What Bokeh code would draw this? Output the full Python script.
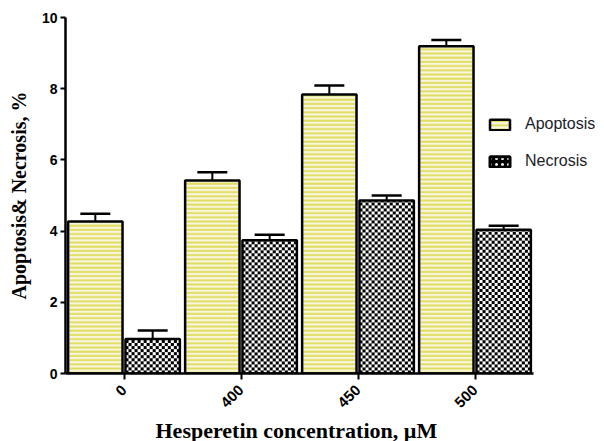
import numpy as np
from bokeh.plotting import figure
from bokeh.models import (ColumnDataSource, Range1d, Whisker, TeeHead,
                          Legend, LegendItem, FixedTicker, Title)
from bokeh.embed import file_html
from bokeh.resources import INLINE

concentrations = ["0", "400", "450", "500"]
apoptosis = [4.27, 5.42, 7.84, 9.19]
apoptosis_err = [0.22, 0.23, 0.25, 0.18]
necrosis = [0.97, 3.74, 4.86, 4.04]
necrosis_err = [0.24, 0.16, 0.14, 0.11]
y_ticks = [0, 2, 4, 6, 8, 10]

OFF = 0.245
BW = 0.465
FRAME_W, FRAME_H = 530, 356
X0, X_AXIS_END = -0.5, 3.5
PX_PER_X = 117.0
X1 = X0 + FRAME_W / PX_PER_X

idx = list(range(len(concentrations)))
src = ColumnDataSource(dict(
    xa=[i - OFF for i in idx],
    xn=[i + OFF for i in idx],
    apo=apoptosis,
    apo_up=[a + e for a, e in zip(apoptosis, apoptosis_err)],
    nec=necrosis,
    nec_up=[a + e for a, e in zip(necrosis, necrosis_err)],
    zero=[0.0] * len(idx),
))

p = figure(x_range=Range1d(X0, X1), y_range=Range1d(0, 10),
           frame_width=FRAME_W, frame_height=FRAME_H,
           min_border_left=65, min_border_top=17, min_border_right=4, min_border_bottom=10,
           output_backend="svg", toolbar_location=None)

r_apo = p.vbar(x="xa", top="apo", width=BW, source=src,
               fill_color="#f7f6de", hatch_pattern="horizontal_line", hatch_color="#e0dc5e",
               hatch_scale=4.2, hatch_weight=2, line_color="black", line_width=2.5)

# legend-only (zero height) glyph for necrosis swatch
r_nec_leg = p.vbar(x="xn", top="zero", width=BW, source=src, fill_color="black",
                   hatch_pattern="dot", hatch_color="white", hatch_scale=6, hatch_weight=1,
                   line_color="black", line_width=3)

# checkerboard texture for necrosis bars, one image per bar
cell = 3
imgs, ximg, dws, dhs = [], [], [], []
px_per_y = FRAME_H / 10.0
for i, v in zip(idx, necrosis):
    rows = max(1, int(round(v * px_per_y)))
    cols = int(round(BW * PX_PER_X))
    rr, cc = np.mgrid[0:rows, 0:cols]
    chk = ((rr // cell + cc // cell) % 2) == 0
    img = np.empty((rows, cols), dtype=np.uint32)
    view = img.view(dtype=np.uint8).reshape((rows, cols, 4))
    view[:, :, 0] = np.where(chk, 0, 255)
    view[:, :, 1] = np.where(chk, 0, 255)
    view[:, :, 2] = np.where(chk, 0, 255)
    view[:, :, 3] = 255
    imgs.append(img)
    ximg.append(i + OFF - BW / 2)
    dws.append(BW)
    dhs.append(v)
p.image_rgba(image=imgs, x=ximg, y=[0] * len(imgs), dw=dws, dh=dhs)

r_nec = p.vbar(x="xn", top="nec", width=BW, source=src,
               fill_alpha=0, line_color="black", line_width=2.5)

for col, up, xcol in (("apo", "apo_up", "xa"), ("nec", "nec_up", "xn")):
    w = Whisker(base=xcol, lower=col, upper=up, source=src,
                dimension="height", line_color="black", line_width=2,
                lower_head=None, upper_head=TeeHead(size=30, line_color="black", line_width=2.5))
    p.add_layout(w)

p.xgrid.visible = False
p.ygrid.visible = False
p.outline_line_color = None

p.yaxis.ticker = FixedTicker(ticks=y_ticks)
p.yaxis.minor_tick_line_color = None
p.yaxis.major_tick_in = 0
p.yaxis.major_tick_out = 5
p.yaxis.axis_line_width = 2.5
p.yaxis.major_tick_line_width = 2
p.yaxis.major_label_text_font = "Liberation Sans"
p.yaxis.major_label_text_font_style = "bold"
p.yaxis.major_label_text_font_size = "14px"
p.yaxis.major_label_text_color = "black"
p.yaxis.major_label_standoff = 3
p.yaxis.axis_label = "Apoptosis& Necrosis, %"
p.yaxis.axis_label_text_font = "Liberation Serif"
p.yaxis.axis_label_text_font_style = "bold"
p.yaxis.axis_label_text_font_size = "20px"
p.yaxis.axis_label_text_color = "black"
p.yaxis.axis_label_standoff = 9

p.xaxis.ticker = FixedTicker(ticks=idx)
p.xaxis.major_label_overrides = {i: c for i, c in zip(idx, concentrations)}
p.xaxis.bounds = (X0, X_AXIS_END)
p.xaxis.minor_tick_line_color = None
p.xaxis.major_tick_in = 0
p.xaxis.major_tick_out = 6
p.xaxis.axis_line_width = 2.5
p.xaxis.major_tick_line_width = 2
p.xaxis.major_label_orientation = np.pi / 4
p.xaxis.major_label_text_font = "Liberation Sans"
p.xaxis.major_label_text_font_style = "bold"
p.xaxis.major_label_text_font_size = "15px"
p.xaxis.major_label_text_color = "black"
p.xaxis.major_label_standoff = 8

xtitle = Title(text="Hesperetin concentration, \u00b5M", align="left", offset=90,
               standoff=0,
               text_font="Liberation Serif", text_font_style="bold",
               text_font_size="22px", text_color="black")
p.add_layout(xtitle, "below")

legend = Legend(items=[LegendItem(label="Apoptosis", renderers=[r_apo]),
                       LegendItem(label="Necrosis", renderers=[r_nec_leg])],
                location=(422, 202), padding=0, margin=0, spacing=17,
                glyph_width=25, glyph_height=13, label_height=20, label_standoff=13,
                label_text_font="Liberation Sans", label_text_font_size="16px",
                label_text_color="#1c1c28",
                border_line_color=None, background_fill_alpha=0)
p.add_layout(legend)

open("out.html", "w").write(file_html(p, INLINE))
